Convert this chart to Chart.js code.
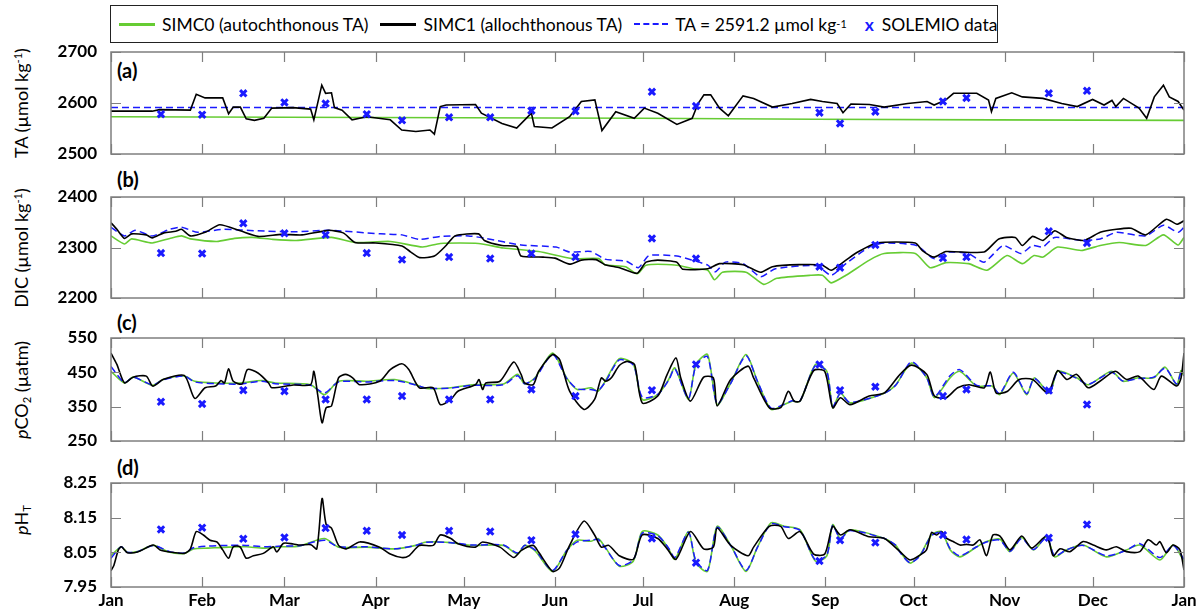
<!DOCTYPE html>
<html>
<head>
<meta charset="utf-8">
<script src="https://cdn.jsdelivr.net/npm/chart.js@4.4.1/dist/chart.umd.min.js"></script>
<style>
  body { margin: 0; background: #fff; width: 1198px; height: 609px; position: relative; overflow: hidden;
         font-family: Lato, "Open Sans", "DejaVu Sans", sans-serif; color: #000; }
  canvas.panel { position: absolute; left: 0; }
  .ytitle { position: absolute; transform: translate(-50%, -50%) rotate(-90deg); white-space: nowrap;
            font-size: 18px; }
  .ytitle sup, #legend sup { font-size: 0.62em; vertical-align: 0.55em; line-height: 0; }
  .ytitle sub { font-size: 0.62em; vertical-align: -0.25em; line-height: 0; }
  .plabel { position: absolute; font-weight: bold; font-size: 20px; }
  #legend { position: absolute; left: 110px; top: 5px; width: 888px; height: 38px; box-sizing: border-box;
            border: 1.5px solid #222; display: flex; align-items: center; padding-left: 8px; font-size: 17.5px;
            white-space: nowrap; }
  #legend .sw { display: inline-block; width: 36px; margin-right: 7px; }
  #legend .item { display: flex; align-items: center; margin-right: 12px; }
</style>
</head>
<body>

<div id="legend">
  <div class="item"><span class="sw" style="border-top:3px solid #66cc33"></span>SIMC0 (autochthonous TA)</div>
  <div class="item"><span class="sw" style="border-top:3px solid #000"></span>SIMC1 (allochthonous TA)</div>
  <div class="item"><span class="sw" style="width:34px;border-top:2px dashed #1a1aff"></span>TA = 2591.2 µmol kg<sup>-1</sup></div>
  <div class="item" style="margin-left:6px"><span style="color:#1a1aff;font-weight:bold;margin-right:8px">x</span>SOLEMIO data</div>
</div>

<div class="ytitle" style="left:21px;top:103px">TA (µmol kg<sup>-1</sup>)</div>
<div class="ytitle" style="left:21px;top:248px">DIC (µmol kg<sup>-1</sup>)</div>
<div class="ytitle" style="left:21px;top:390px"><i>p</i>CO<sub>2</sub> (µatm)</div>
<div class="ytitle" style="left:21px;top:520px"><i>p</i>H<sub>T</sub></div>

<div class="plabel" style="left:117px;top:58px">(a)</div>
<div class="plabel" style="left:117px;top:167px">(b)</div>
<div class="plabel" style="left:117px;top:310px">(c)</div>
<div class="plabel" style="left:117px;top:455px">(d)</div>

<canvas id="cA" class="panel"></canvas>
<canvas id="cB" class="panel"></canvas>
<canvas id="cC" class="panel"></canvas>
<canvas id="cD" class="panel"></canvas>

<script>
// ---- time axis: day of year, ticks on the first of each month ----
const monthDays = [0, 31, 59, 90, 120, 151, 181, 212, 243, 273, 304, 334, 365];
const monthLabels = ['Jan', 'Feb', 'Mar', 'Apr', 'May', 'Jun', 'Jul', 'Aug', 'Sep', 'Oct', 'Nov', 'Dec', 'Jan'];

// ---- y tick values per panel ----
const taTicks = [2500, 2600, 2700];
const dicTicks = [2200, 2300, 2400];
const pco2Ticks = [250, 350, 450, 550];
const phTicks = [7.95, 8.05, 8.15, 8.25];

// ---- SOLEMIO sampling days and observations ----
const solemioDays = [17, 31, 45, 59, 73, 87, 99, 115, 129, 143, 158, 184, 199, 241, 248, 260, 283, 291, 319, 332];
const solemioTA   = [2578, 2577, 2619, 2601, 2599, 2578, 2566, 2572, 2572, 2585, 2584, 2622, 2594, 2581, 2560, 2583, 2603, 2610, 2619, 2624];
const solemioDIC  = [2289, 2288, 2348, 2328, 2325, 2289, 2276, 2281, 2278, 2288, 2281, 2318, 2278, 2262, 2260, 2305, 2279, 2281, 2332, 2309];
const solemioPCO2 = [364, 358, 398, 395, 371, 371, 381, 371, 371, 400, 381, 398, 473, 473, 398, 408, 381, 400, 397, 356];
const solemioPH   = [8.116, 8.121, 8.089, 8.093, 8.12, 8.112, 8.10, 8.112, 8.11, 8.085, 8.102, 8.09, 8.02, 8.025, 8.085, 8.078, 8.10, 8.087, 8.092, 8.13];

// ---- (a) total alkalinity, [day, value] ----
const taSimc0 = [[0,2573],[60,2572],[120,2571],[180,2570],[240,2568],[300,2567],[365,2566]];
const taFixed = [[0,2591.2],[365,2591.2]];
const taSimc1 = [[0,2584],[14,2584],[16.5,2587],[27,2586],[29,2617],[32,2610],[38,2610],[40,2579],[41.6,2592],[44,2592],
  [46,2569],[48.8,2566],[52,2570],[54.7,2590],[61.9,2591],[67.9,2588],[69,2567],[71.7,2635],[73,2619],[75,2620],[76,2591],
  [78.6,2586],[82,2567],[87,2573],[95,2567],[98.9,2547],[103.7,2544],[108.5,2547],[110,2539],[112,2593],[114,2596],[124,2597],
  [126,2580],[133,2560],[138,2551],[143,2580],[144,2554],[150,2551],[156,2573],[160,2603],[164.6,2606],[167,2546],[171.7,2583],
  [178,2570],[181.4,2590],[186,2580],[192.5,2558],[197.7,2570],[199.7,2599],[201.7,2616],[204,2616],[207,2590],[210,2575],
  [215,2614],[218.6,2609],[225,2592],[231.7,2599],[238,2607],[242,2603],[247,2599],[249,2581],[251.7,2598],[258,2597],[263,2592],
  [271,2599],[277.6,2603],[280,2596],[284,2606],[286.6,2619],[294.5,2619],[298.5,2606],[299.5,2583],[301,2609],[306.4,2620],
  [310,2612],[317,2609],[323.4,2599],[328.7,2593],[333.9,2607],[337.8,2596],[340.5,2605],[341.8,2593],[344.4,2609],[349.7,2590],
  [352.3,2570],[354.9,2612],[358,2635],[360,2612],[363,2603],[365,2586]];

// ---- (b) dissolved inorganic carbon ----
const dicSimc1 = [[0,2349],[2,2336],[4.6,2318],[7,2327],[12,2325],[14,2319],[18,2329],[22,2332],[24,2336],[27,2323],[32,2330],
  [37,2345],[44,2333],[50,2322],[58,2326],[65,2325],[74,2334],[79,2329],[83,2310],[90,2309],[99,2303],[102,2291],[105,2280],
  [110,2283],[114,2304],[117,2323],[125,2327],[127,2314],[133,2304],[138,2302],[139.5,2283],[147,2281],[151,2279],[156,2267],
  [160,2275],[165,2276],[168,2266],[173,2260],[179,2249],[182,2271],[186,2275],[192.5,2271],[194.5,2257],[203,2258],[207,2268],
  [215,2266],[221,2251],[225,2262],[234,2266],[242,2265],[245,2255],[250,2275],[254,2291],[260.5,2309],[273.6,2309],[276,2294],
  [280,2281],[284,2292],[297,2291],[302,2317],[307.6,2320],[310,2304],[313.5,2322],[317,2314],[321,2333],[325,2320],[331,2314],
  [336.5,2330],[342,2336],[347,2338],[352,2325],[359,2356],[362.6,2346],[365,2353]];
const dicSimc0 = [[0,2323],[4.6,2307],[7,2317],[14,2309],[20,2318],[24,2323],[27,2317],[36,2312],[42,2318],[48,2320],[55,2316],
  [63,2314],[75,2320],[83,2310],[95,2312],[106,2301],[112,2308],[125,2308],[133.5,2299],[145.5,2292],[157,2278],[166,2278],
  [168,2266],[175,2262],[179,2248],[182,2265],[192.5,2265],[198,2258],[203,2255],[205.3,2236],[208,2251],[216,2251],[222,2227],
  [226.5,2239],[238,2245],[242,2245],[245,2230],[250,2245],[258,2275],[263,2288],[273.6,2288],[278.6,2260],[284,2270],
  [291.7,2268],[298,2255],[304.8,2284],[310,2268],[314,2284],[317,2281],[322,2301],[330,2294],[336.5,2304],[343,2310],
  [352,2304],[358,2325],[363,2305],[365,2320]];
const dicFixed = [[0,2340],[4.6,2323],[8.2,2334],[14,2323],[20,2336],[24,2340],[29.5,2330],[38,2336],[50,2333],[62,2331],
  [74,2334],[91.7,2327],[99,2325],[105,2316],[112,2322],[121.6,2323],[127.5,2318],[139.5,2305],[151.4,2301],[156,2291],
  [163.3,2292],[168,2277],[175.3,2273],[179.4,2260],[183,2284],[192.5,2283],[197.7,2275],[203,2265],[205.6,2252],[209,2271],
  [215,2268],[221,2242],[226,2258],[240,2264],[245,2245],[250,2268],[258,2301],[263,2309],[274,2304],[280,2278],[285,2291],
  [291.7,2288],[297,2271],[303.5,2304],[309.5,2288],[313.5,2304],[317,2301],[321,2320],[330,2314],[336.5,2317],[342,2330],
  [352,2323],[358,2344],[363,2330],[365,2340]];

// ---- (c) pCO2 ----
const pco2Simc1 = [[0,506],[2,473],[4.6,419],[7.5,436],[12,439],[14.2,410],[17.7,429],[24.9,441],[28.5,374],[32,405],[35.6,410],
  [37.4,426],[38.6,419],[40,460],[41.6,424],[44.6,416],[46.4,458],[50,448],[53.6,419],[54.7,405],[62,413],[67.9,414],[69,453],
  [70.3,385],[71.8,303],[73.2,347],[75,352],[77.4,434],[79.8,444],[82.2,434],[84.6,414],[91.4,424],[95,458],[98.9,475],
  [101.3,458],[104.9,405],[109.6,405],[112,356],[115.6,371],[118,395],[124,414],[125.2,429],[126.4,400],[127.5,419],[132.3,424],
  [137,480],[139.5,444],[140.7,419],[143.6,414],[145.5,453],[150.2,502],[152.6,487],[156,395],[160.9,342],[164.5,371],
  [166.8,434],[168.3,424],[170.2,434],[172.9,470],[175.5,482],[178.1,473],[180.7,361],[186,381],[189.2,444],[192.2,492],
  [193.8,434],[197.1,366],[201.6,436],[204.9,434],[206.2,352],[210.8,429],[216.7,468],[218.6,434],[223.9,347],[227.8,347],
  [230.4,395],[232.4,366],[234.4,366],[239,455],[242.8,453],[245.5,347],[248.1,376],[251.4,356],[257.9,381],[263.1,390],
  [268.4,444],[272.3,471],[277.5,444],[280.1,381],[284.1,376],[288,405],[291.9,414],[297.1,405],[299.1,451],[301.1,390],
  [305,395],[308.9,429],[313.5,429],[318.7,390],[322,455],[325.2,429],[328.5,444],[332.4,405],[336.4,424],[341.6,453],
  [345.5,429],[349.4,439],[354.7,400],[357.3,439],[362.5,410],[364,434],[365,506]];
const pco2Simc0 = [[0,453],[4.6,419],[7.6,436],[14.2,412],[17.7,429],[24.9,439],[28.5,424],[35.6,419],[44,419],[51.2,426],
  [55.9,419],[67.9,414],[72.6,385],[77.4,424],[86.9,424],[96.5,429],[103.7,414],[107.2,403],[115.6,405],[122.8,414],
  [133.5,416],[138.3,444],[140.7,416],[144.2,434],[150.2,506],[155,434],[158.6,400],[163.3,405],[165.7,395],[168.1,424],
  [172.9,490],[177.7,473],[180.7,371],[186,385],[189.7,429],[191.8,463],[196.4,371],[199,473],[202.9,502],[206.2,356],
  [210.8,419],[216,502],[219.9,424],[224.5,342],[229,356],[231.7,366],[234.4,366],[239.6,473],[243.5,453],[245.5,347],
  [248.1,390],[251.4,361],[263.1,390],[267,414],[272.3,477],[277.5,434],[280.1,376],[285.4,434],[288.7,453],[294.5,410],
  [299.7,410],[302.3,385],[306.9,448],[311.5,385],[314.1,434],[319.3,390],[322,453],[328.5,434],[332.4,414],[340.3,453],
  [344.2,424],[349.4,434],[354.7,434],[358.6,465],[362.5,414],[364,455],[365,440]];
const pco2Fixed = [[0,467],[4.6,420],[7.6,436],[14.2,413],[17.7,428],[24.9,439],[28.5,422],[35.6,417],[44,416],[51.2,424],
  [55.9,417],[67.9,412],[72.6,390],[77.4,422],[86.9,422],[96.5,426],[103.7,413],[107.2,404],[115.6,404],[122.8,412],
  [133.5,414],[138.3,440],[140.7,417],[144.2,432],[150.2,502],[155,432],[158.6,402],[163.3,400],[165.7,397],[168.1,421],
  [172.9,486],[177.7,471],[180.7,378],[186,386],[189.7,427],[191.8,460],[196.4,374],[199,470],[202.9,496],[206.2,358],
  [210.8,418],[216,498],[219.9,424],[224.5,346],[229,357],[231.7,367],[234.4,367],[239.6,470],[243.5,452],[245.5,350],
  [248.1,388],[251.4,362],[263.1,389],[267,413],[272.3,481],[277.5,434],[280.1,379],[285.4,440],[288.7,458],[294.5,412],
  [299.7,410],[302.3,388],[306.9,450],[311.5,388],[314.1,432],[319.3,392],[322,450],[328.5,433],[332.4,415],[340.3,450],
  [344.2,425],[349.4,432],[354.7,436],[358.6,462],[362.5,416],[364,450],[365,440]];

// ---- (d) pH on the total scale ----
const phSimc1 = [[0,7.997],[1,8.013],[2.5,8.057],[3.5,8.066],[4.6,8.057],[5.5,8.049],[9,8.051],[14.4,8.071],[16.7,8.057],
  [20,8.051],[25,8.047],[27,8.06],[29,8.11],[31.4,8.10],[33.7,8.085],[36,8.08],[38,8.057],[40,8.033],[41.6,8.066],[43.9,8.066],
  [46,8.033],[48.4,8.04],[51.8,8.047],[55.2,8.066],[56.4,8.051],[58.7,8.076],[62,8.074],[64.3,8.071],[68,8.072],[70,8.06],
  [71.8,8.205],[73.2,8.13],[75,8.12],[77.4,8.07],[80,8.06],[84.6,8.08],[91.4,8.065],[95,8.045],[98.9,8.035],[101.3,8.04],
  [104.9,8.07],[109.6,8.07],[112,8.10],[115.6,8.09],[118,8.075],[124,8.065],[126.4,8.08],[132.3,8.065],[137,8.035],
  [139.5,8.055],[143.6,8.07],[145.5,8.05],[150.2,7.995],[152.6,8.005],[156,8.07],[160.9,8.14],[164.5,8.10],[166.8,8.065],
  [169.3,8.07],[172.9,8.04],[177.7,8.03],[180.7,8.10],[186,8.09],[189.2,8.06],[192.2,8.03],[197.1,8.11],[201.6,8.06],
  [204.9,8.065],[206.2,8.12],[210.8,8.07],[216.7,8.04],[218.6,8.065],[223.9,8.125],[227.8,8.125],[230.4,8.09],[234.4,8.11],
  [239,8.045],[242.8,8.045],[245.5,8.125],[248.1,8.10],[251.4,8.115],[257.9,8.095],[263.1,8.09],[268.4,8.052],[271.8,8.028],
  [275.2,8.042],[277.4,8.057],[279.1,8.107],[280.8,8.10],[282.5,8.11],[284.2,8.091],[286.5,8.081],[288.8,8.071],[291,8.073],
  [293.3,8.071],[295.6,8.086],[297.8,8.04],[300,8.10],[302.4,8.097],[305.8,8.057],[309.8,8.097],[313.2,8.062],[318.3,8.097],
  [320.5,8.04],[322.8,8.06],[326.2,8.052],[330.7,8.081],[334.1,8.071],[338.6,8.057],[342,8.066],[345.4,8.052],[350,8.052],
  [352.8,8.086],[355.6,8.071],[356.8,8.081],[359,8.049],[361.3,8.071],[363.6,8.057],[365,7.999]];
const phSimc0 = [[0,8.04],[3.5,8.066],[5.5,8.05],[9,8.052],[14.4,8.07],[20,8.05],[25,8.047],[28,8.06],[33,8.062],[40,8.065],
  [46,8.066],[52,8.062],[58,8.066],[64,8.068],[72.6,8.09],[77.4,8.065],[86.9,8.065],[96.5,8.06],[103.7,8.07],[107.2,8.08],
  [115.6,8.078],[122.8,8.07],[133.5,8.07],[138.3,8.045],[140.7,8.07],[144.2,8.055],[150.2,7.995],[155,8.055],[158.6,8.085],
  [163.3,8.082],[165.7,8.09],[168.1,8.065],[172.9,8.01],[177.7,8.025],[180.7,8.11],[186,8.10],[189.7,8.06],[191.8,8.03],
  [196.4,8.11],[199,8.02],[202.9,7.995],[206.2,8.125],[210.8,8.07],[216,7.995],[219.9,8.065],[224.5,8.135],[229,8.125],
  [234.4,8.115],[239.6,8.025],[243.5,8.04],[245.5,8.13],[248.1,8.09],[251.4,8.115],[263.1,8.09],[267,8.07],[268.4,8.052],
  [271.8,8.019],[275.2,8.042],[279.1,8.10],[282.5,8.11],[285.5,8.057],[288.8,8.037],[294.5,8.066],[297.8,8.081],[302.4,8.088],
  [305.8,8.052],[309.8,8.093],[313.8,8.057],[318.3,8.095],[321,8.037],[325,8.057],[330.7,8.071],[338.6,8.037],[345.4,8.057],
  [350,8.071],[356.8,8.028],[361.3,8.071],[365,8.023]];
const phFixed = [[0,8.033],[3.5,8.066],[5.5,8.05],[9,8.052],[14.4,8.07],[20,8.052],[25,8.048],[28,8.063],[33,8.068],[40,8.07],
  [46,8.07],[52,8.066],[58,8.068],[64,8.069],[72.6,8.085],[77.4,8.066],[86.9,8.066],[96.5,8.06],[103.7,8.07],[107.2,8.079],
  [115.6,8.078],[122.8,8.071],[133.5,8.071],[138.3,8.048],[140.7,8.07],[144.2,8.057],[150.2,7.998],[155,8.055],[158.6,8.08],
  [163.3,8.085],[165.7,8.087],[168.1,8.063],[172.9,8.012],[177.7,8.028],[180.7,8.105],[186,8.098],[189.7,8.062],[191.8,8.035],
  [196.4,8.108],[199,8.025],[202.9,7.998],[206.2,8.122],[210.8,8.07],[216,7.998],[219.9,8.064],[224.5,8.132],[229,8.124],
  [234.4,8.113],[239.6,8.028],[243.5,8.042],[245.5,8.128],[248.1,8.09],[251.4,8.113],[263.1,8.09],[267,8.07],[268.4,8.05],
  [271.8,8.02],[275.2,8.04],[279.1,8.098],[282.5,8.108],[285.5,8.06],[288.8,8.04],[294.5,8.066],[297.8,8.08],[302.4,8.085],
  [305.8,8.053],[309.8,8.09],[313.8,8.058],[318.3,8.093],[321,8.04],[325,8.057],[330.7,8.07],[338.6,8.04],[345.4,8.056],
  [350,8.075],[356.8,8.035],[361.3,8.07],[365,8.03]];

// ---- styling ----
const GREEN = '#66cc33', BLACK = '#000000', BLUE = '#1a1aff';
const FONT = 'Lato, "Open Sans", sans-serif';

const toXY = pairs => pairs.map(([x, y]) => ({ x, y }));
const obsXY = vals => solemioDays.map((d, i) => ({ x: d, y: vals[i] }));

function seriesSet(simc0, simc1, fixed, obs, tension) {
  return [
    { data: obsXY(obs), showLine: false, pointStyle: 'crossRot', pointRadius: 4.5, pointBorderWidth: 3,
      borderColor: BLUE, backgroundColor: BLUE, order: 0 },
    { data: toXY(simc1), borderColor: BLACK, borderWidth: 1.6, pointRadius: 0, tension, order: 1 },
    { data: toXY(fixed), borderColor: BLUE, borderWidth: 1.5, borderDash: [7, 4], pointRadius: 0, tension, order: 2 },
    { data: toXY(simc0), borderColor: GREEN, borderWidth: 1.6, pointRadius: 0, tension, order: 3 }
  ];
}

// frame and inward tick marks, placed through the chart's own scales
const framePlugin = {
  id: 'frame',
  afterDatasetsDraw(chart) {
    const { ctx, chartArea: a, scales: { x, y } } = chart;
    ctx.save();
    ctx.strokeStyle = '#7f7f7f';
    ctx.lineWidth = 1.2;
    ctx.beginPath();
    x.ticks.forEach(t => {
      const px = Math.round(x.getPixelForValue(t.value)) + 0.5;
      ctx.moveTo(px, a.bottom); ctx.lineTo(px, a.bottom - 10);
      ctx.moveTo(px, a.top); ctx.lineTo(px, a.top + 10);
    });
    y.ticks.forEach(t => {
      const py = Math.round(y.getPixelForValue(t.value)) + 0.5;
      ctx.moveTo(a.left, py); ctx.lineTo(a.left + 10, py);
      ctx.moveTo(a.right, py); ctx.lineTo(a.right - 10, py);
    });
    ctx.stroke();
    ctx.lineWidth = 1.5;
    ctx.strokeRect(a.left, a.top, a.right - a.left, a.bottom - a.top);
    ctx.restore();
  }
};

function makePanel(id, top, boxH, yMin, yMax, yTicks, fmt, datasets, showX) {
  const padTop = 10, padBottom = showX ? 0 : 10, xH = showX ? 22 : 0;
  const canvas = document.getElementById(id);
  canvas.width = 1198;
  canvas.height = padTop + boxH + padBottom + xH;
  canvas.style.top = (top - padTop) + 'px';
  new Chart(canvas, {
    type: 'line',
    data: { datasets },
    plugins: [framePlugin],
    options: {
      responsive: false,
      animation: false,
      layout: { padding: { top: padTop, bottom: padBottom, left: 0, right: 14 } },
      plugins: { legend: { display: false }, tooltip: { enabled: false } },
      scales: {
        x: {
          type: 'linear', min: 0, max: 365,
          afterBuildTicks: s => { s.ticks = monthDays.map(v => ({ value: v })); },
          afterFit: s => { s.height = xH; s.paddingLeft = 0; s.paddingRight = 0; },
          ticks: { display: showX, autoSkip: false, maxRotation: 0, padding: 3, color: '#000',
                   font: { family: FONT, size: 17, weight: 'bold' },
                   callback: (v, i) => monthLabels[i] },
          grid: { display: false, drawTicks: false },
          border: { display: false }
        },
        y: {
          min: yMin, max: yMax,
          afterBuildTicks: s => { s.ticks = yTicks.map(v => ({ value: v })); },
          afterFit: s => { s.width = 111; s.paddingTop = 0; s.paddingBottom = 0; },
          ticks: { padding: 14, color: '#000', font: { family: FONT, size: 17, weight: 'bold' }, callback: fmt },
          grid: { display: false, drawTicks: false },
          border: { display: false }
        }
      }
    }
  });
}

const intFmt = v => String(v);
makePanel('cA', 52, 102, 2500, 2700, taTicks, intFmt, seriesSet(taSimc0, taSimc1, taFixed, solemioTA, 0), false);
makePanel('cB', 197, 101, 2200, 2400, dicTicks, intFmt, seriesSet(dicSimc0, dicSimc1, dicFixed, solemioDIC, 0.2), false);
makePanel('cC', 338, 103, 250, 550, pco2Ticks, intFmt, seriesSet(pco2Simc0, pco2Simc1, pco2Fixed, solemioPCO2, 0.25), false);
makePanel('cD', 483, 104, 7.95, 8.25, phTicks, v => v.toFixed(2), seriesSet(phSimc0, phSimc1, phFixed, solemioPH, 0.25), true);
</script>
</body>
</html>
